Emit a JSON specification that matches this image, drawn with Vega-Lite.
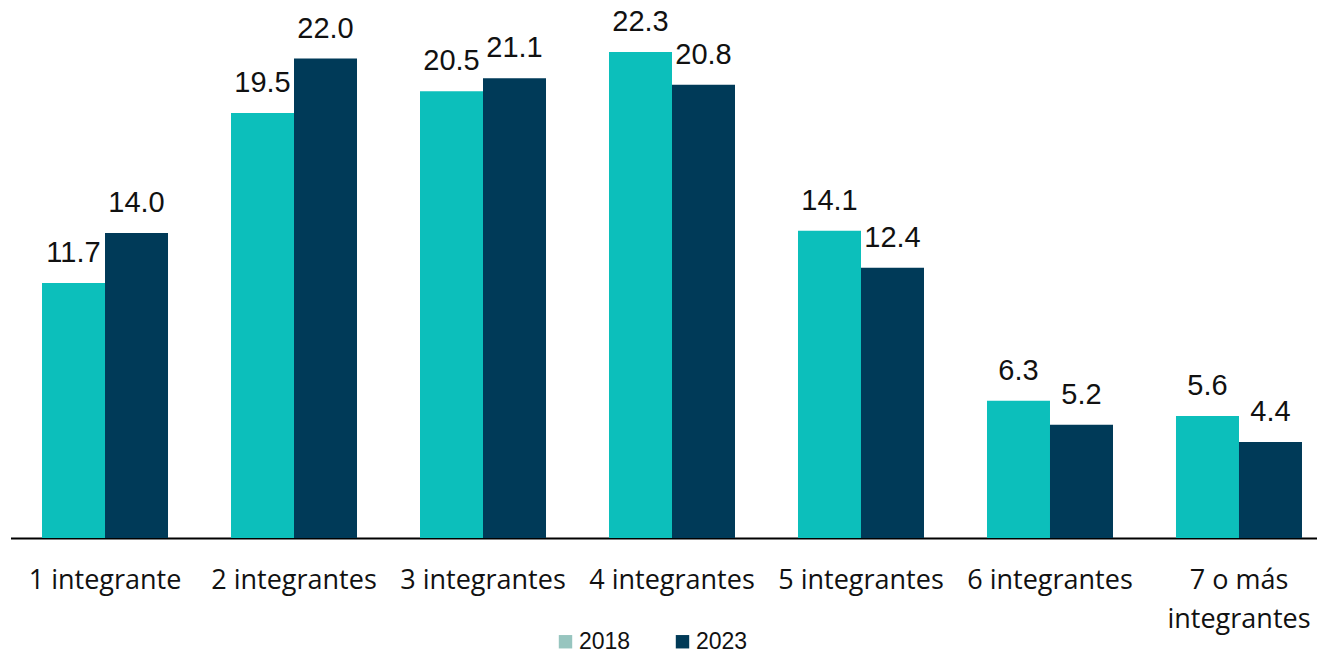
{
  "$schema": "https://vega.github.io/schema/vega-lite/v6.json",
  "width": 1282,
  "height": 523,
  "autosize": "none",
  "padding": {"left": 35, "top": 15, "right": 0, "bottom": 116},
  "background": "white",
  "config": {"view": {"stroke": null}},
  "data": {"values": [
    {"cat": "1 integrante", "year": "2018", "v": 11.7},
    {"cat": "1 integrante", "year": "2023", "v": 14.0},
    {"cat": "2 integrantes", "year": "2018", "v": 19.5},
    {"cat": "2 integrantes", "year": "2023", "v": 22.0},
    {"cat": "3 integrantes", "year": "2018", "v": 20.5},
    {"cat": "3 integrantes", "year": "2023", "v": 21.1},
    {"cat": "4 integrantes", "year": "2018", "v": 22.3},
    {"cat": "4 integrantes", "year": "2023", "v": 20.8},
    {"cat": "5 integrantes", "year": "2018", "v": 14.1},
    {"cat": "5 integrantes", "year": "2023", "v": 12.4},
    {"cat": "6 integrantes", "year": "2018", "v": 6.3},
    {"cat": "6 integrantes", "year": "2023", "v": 5.2},
    {"cat": "7 o más integrantes", "year": "2018", "v": 5.6},
    {"cat": "7 o más integrantes", "year": "2023", "v": 4.4}
  ]},
  "encoding": {
    "x": {
      "field": "cat", "type": "nominal", "sort": null,
      "scale": {"range": [-24.5, 1298.5], "paddingInner": 0.3333, "paddingOuter": 0.1667},
      "axis": {
        "title": null, "labelAngle": 0, "ticks": false,
        "domainColor": "#000000", "domainWidth": 2,
        "labelFont": "Open Sans", "labelFontSize": 27, "labelColor": "#111111",
        "labelPadding": 29, "labelLineHeight": 39,
        "labelExpr": "datum.value == '7 o más integrantes' ? ['7 o más', 'integrantes'] : datum.value"
      }
    },
    "xOffset": {"field": "year", "type": "nominal"},
    "y": {"field": "v", "type": "quantitative", "scale": {"domain": [0, 24], "nice": false}, "axis": null}
  },
  "resolve": {"scale": {"color": "independent"}, "legend": {"color": "independent"}},
  "layer": [
    {
      "mark": {"type": "bar"},
      "encoding": {
        "color": {
          "field": "year", "type": "nominal",
          "scale": {"domain": ["2018", "2023"], "range": ["#0CBFBB", "#003A58"]},
          "legend": null
        }
      }
    },
    {
      "mark": {"type": "square", "size": 0, "opacity": 1, "filled": true},
      "encoding": {
        "color": {
          "field": "year", "type": "nominal",
          "scale": {"domain": ["2018", "2023"], "range": ["#97C5BF", "#003A57"]},
          "legend": {
            "title": null, "orient": "none", "direction": "horizontal",
            "legendX": 519, "legendY": 615,
            "symbolType": "square", "symbolSize": 180, "symbolStrokeWidth": 0, "symbolOpacity": 1,
            "labelFont": "Liberation Sans", "labelFontSize": 23, "labelColor": "#111111",
            "labelOffset": 2, "columnPadding": 40
          }
        }
      }
    },
    {
      "mark": {"type": "text", "baseline": "alphabetic", "dy": -21, "font": "Liberation Sans", "fontSize": 29, "color": "#111111"},
      "encoding": {
        "text": {"field": "v", "type": "quantitative", "format": ".1f"}
      }
    }
  ]
}
